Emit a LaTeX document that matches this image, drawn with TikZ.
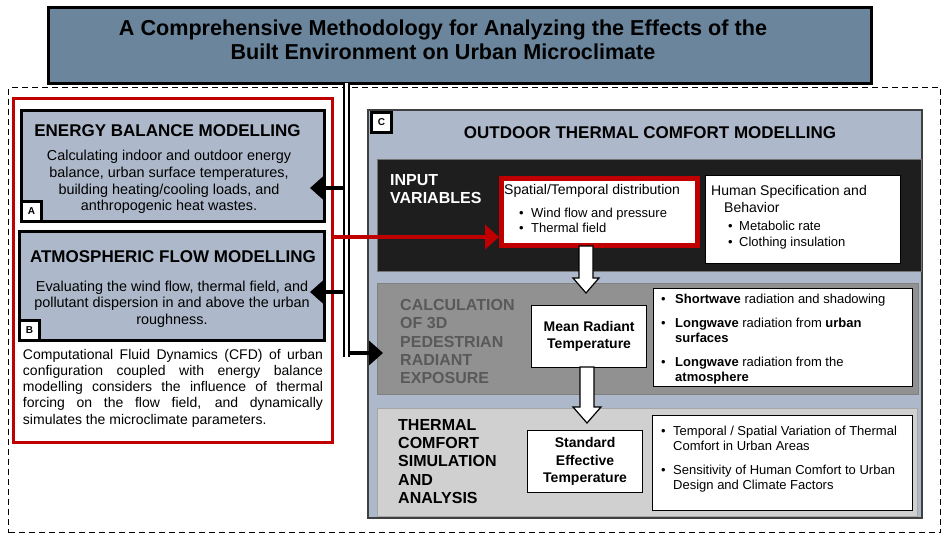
\documentclass[tikz,border=0pt]{standalone}
\usepackage{fontspec}
\setmainfont{Liberation Sans}
\usetikzlibrary{positioning}
\usetikzlibrary{arrows.meta}
\definecolor{titleblue}{RGB}{106,133,156}
\definecolor{boxblue}{RGB}{173,185,202}
\definecolor{panelblack}{RGB}{30,30,30}
\definecolor{calcgrey}{RGB}{145,145,145}
\definecolor{calctext}{RGB}{89,89,89}
\definecolor{simgrey}{RGB}{208,208,208}
\definecolor{darkred}{RGB}{192,0,0}
\tikzset{x=1pt, y=-1pt, >={Triangle[length=14pt,width=24pt]}, inner sep=0pt, font=\fontsize{14}{16.5}\selectfont}
\tikzstyle{panel} = [draw, rectangle, anchor=north west, inner sep=0pt]
\tikzstyle{block} = [panel, draw=black, fill=boxblue, line width=2.5pt]
\tikzstyle{letter} = [draw=black, fill=white, line width=3pt, minimum size=20pt, anchor=south west, font=\fontsize{10}{10}\selectfont\bfseries]
\tikzstyle{heading} = [font=\fontsize{17}{20}\selectfont\bfseries]
\tikzstyle{body} = [align=center, font=\fontsize{14.4}{16.7}\selectfont]
\tikzstyle{caps} = [anchor=west, align=left, font=\fontsize{16}{18.3}\selectfont\bfseries]
\tikzstyle{whitebox} = [panel, draw=black, fill=white, line width=1.2pt]
\tikzstyle{result} = [whitebox, align=center, font=\fontsize{14}{17.5}\selectfont\bfseries]
\tikzstyle{bullets} = [anchor=west, align=left, font=\fontsize{13}{15}\selectfont]
\tikzstyle{arrowline} = [->, line width=4pt]
\tikzstyle{hollow} = [draw=black, fill=white, line width=1.2pt, line join=miter]
\newcommand{\bul}[2][12pt]{\makebox[#1][l]{\textbullet}#2}
% block arrow pointing down: start, shaft length, head extend, head length
\newcommand{\hollowarrow}[4]{\draw [hollow] (#1) ++(-7,0) -- ++(0,#2) -- ++(-#3,0) -- ++(7+#3,#4) -- ++(7+#3,-#4) -- ++(-#3,0) -- ++(0,-#2) -- cycle;}

\begin{document}
\begin{tikzpicture}
		\useasboundingbox (0,0) rectangle (948,538);
		\node [panel, draw=black, line width=1.3pt, dash pattern=on 6pt off 4pt, minimum width=932pt, minimum height=445pt] (frame) at (8,87) {};
		\node [panel, draw=black, fill=titleblue, line width=3pt, minimum width=823pt, minimum height=76pt] (title) at (46.5,5.5) {};
		\node [align=center, font=\fontsize{21.6}{24}\selectfont\bfseries] (title-text) at (443,40) {A Comprehensive Methodology for Analyzing the Effects of the\\Built Environment on Urban Microclimate};

		% left column
		\node [panel, draw=darkred, line width=2.5pt, minimum width=319pt, minimum height=344pt] (red-frame) at (12,97) {};
		\node [block, minimum width=303pt, minimum height=111pt] (energy) at (20,109) {};
		\node [heading] (energy-title) at (167.5,131) {ENERGY BALANCE MODELLING};
		\node [body] (energy-text) at (169,182) {Calculating indoor and outdoor energy\\balance, urban surface temperatures,\\building heating/cooling loads, and\\anthropogenic heat wastes.};
		\node [letter] (label-a) at (energy.south west) {A};
		\node [block, minimum width=305pt, minimum height=109pt] (atmos) at (18,230) {};
		\node [heading] (atmos-title) at (173,257) {ATMOSPHERIC FLOW MODELLING};
		\node [body] (atmos-text) at (172,304) {Evaluating the wind flow, thermal field, and\\pollutant dispersion in and above the urban\\roughness.};
		\node [letter] (label-b) at (atmos.south west) {B};
		\node [align=justify, text width=300pt, font=\fontsize{14}{16.2}\selectfont] (cfd-text) at (173,388) {Computational Fluid Dynamics (CFD) of urban\linebreak configuration coupled with energy balance\linebreak modelling considers the influence of thermal\linebreak forcing on the flow field, and dynamically\linebreak simulates the microclimate parameters.};

		% outdoor thermal comfort
		\node [panel, draw=black!75, fill=boxblue, line width=1.5pt, minimum width=554pt, minimum height=408pt] (cbox) at (367,109) {};
		\node [letter, anchor=north west] (label-c) at ([xshift=3pt,yshift=-2pt]cbox.north west) {C};
		\node [heading] (cbox-title) at (650,133) {OUTDOOR THERMAL COMFORT MODELLING};
		\node [panel, draw=black!55, fill=panelblack, line width=1pt, minimum width=544pt, minimum height=112pt] (input) at (376.5,158.5) {};
		\node [caps, text=white] (input-title) at (390,189) {INPUT\\VARIABLES};
		\node [panel, draw=darkred, fill=white, line width=4.5pt, minimum width=196pt, minimum height=67pt] (spatial) at (499,176) {};
		\node [anchor=west] (spatial-title) at (504,191) {Spatial/Temporal distribution};
		\node [bullets] (spatial-list) at (519,220.5) {\bul{Wind flow and pressure}\\\bul{Thermal field}};
		\node [whitebox, minimum width=195pt, minimum height=88pt] (human) at (705,175) {};
		\node [anchor=west, align=left, font=\fontsize{14}{17}\selectfont] (human-title) at (711,198.5) {Human Specification and\\\hspace*{13pt}Behavior};
		\node [bullets, font=\fontsize{13}{16}\selectfont] (human-list) at (728,235) {\bul[11pt]{Metabolic rate}\\\bul[11pt]{Clothing insulation}};

		\node [panel, draw=black!50, fill=calcgrey, line width=1pt, minimum width=541pt, minimum height=111pt] (calc) at (377,283) {};
		\node [caps, text=calctext] (calc-title) at (400,341.5) {CALCULATION\\OF 3D\\PEDESTRIAN\\RADIANT\\EXPOSURE};
		\node [result, minimum width=115pt, minimum height=62pt] (mrt) at (531,305) {Mean Radiant\\Temperature};
		\node [whitebox, minimum width=259pt, minimum height=98pt] (radiation) at (653,288) {};
		\node [bullets] (radiation-list) at (661,339.5) {\bul[14pt]{\textbf{Shortwave} radiation and shadowing}\\[9pt]\bul[14pt]{\textbf{Longwave} radiation from \textbf{urban}}\\\hspace*{14pt}\textbf{surfaces}\\[9pt]\bul[14pt]{\textbf{Longwave} radiation from the}\\\hspace*{14pt}\textbf{atmosphere}};

		\node [panel, draw=black!35, fill=simgrey, line width=1pt, minimum width=540pt, minimum height=108pt] (simulation) at (377,408) {};
		\node [caps] (simulation-title) at (398,461.5) {THERMAL\\COMFORT\\SIMULATION\\AND\\ANALYSIS};
		\node [result, minimum width=115pt, minimum height=62pt] (set) at (527,430) {Standard\\Effective\\Temperature};
		\node [whitebox, minimum width=260pt, minimum height=95pt] (comfort) at (652,415) {};
		\node [bullets] (comfort-list) at (661,459) {\bul{Temporal / Spatial Variation of Thermal}\\\hspace*{12pt}Comfort in Urban Areas\\[9pt]\bul{Sensitivity of Human Comfort to Urban}\\\hspace*{12pt}Design and Climate Factors};

		% block arrows
		\coordinate (flow-a) at (586,246);
		\coordinate (flow-b) at (587,367);
		\hollowarrow{flow-a}{32}{6}{15}
		\hollowarrow{flow-b}{40}{7}{16}

		% connectors
		\coordinate (trunk-top) at (346.5,83);
		\coordinate (trunk-bottom) at (346.5,357);
		\coordinate (to-energy) at (310,188);
		\coordinate (to-atmos) at (310,292);
		\coordinate (to-calc) at (383,353);
		\coordinate (red-start) at (331,237);
		\draw [arrowline] (trunk-top |- to-energy) -- (to-energy);
		\draw [arrowline] (trunk-top |- to-atmos) -- (to-atmos);
		\draw [arrowline] (trunk-top |- to-calc) -- (to-calc);
		\draw [line width=1.8pt, double=white, double distance=2.6pt] (trunk-top) -- (trunk-bottom);
		\draw [arrowline, draw=darkred, fill=darkred] (red-start) -- (red-start -| spatial.west);
	\end{tikzpicture}
\end{document}
